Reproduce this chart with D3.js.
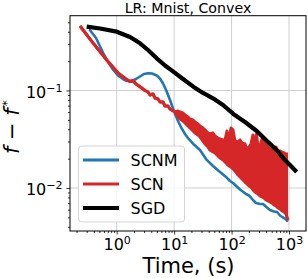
<!DOCTYPE html>
<html><head><meta charset="utf-8">
<script src="https://cdn.jsdelivr.net/npm/d3@7"></script>
<style>body{margin:0;background:#fff}svg{display:block}text{font-family:"DejaVu Sans",sans-serif}</style>
</head><body><svg id="c" width="308" height="278"></svg>
<script>
const title = "LR: Mnist, Convex";
const xLabel = "Time, (s)";
const seriesNames = ["SCNM", "SCN", "SGD"];
const seriesColors = ["#1f77b4", "#d62728", "#000000"];
const xMajorTicks = [1, 10, 100, 1000];
const yMajorTicks = [0.01, 0.1];

// SCNM
const scnmT = [0.333,0.436,0.585,0.706,0.873,1.054,1.303,1.512,1.825,2.168,2.545,2.988,3.549,4.120,4.972,5.675,6.478,7.365,8.474,9.557,10.57,11.68,13.55,15.46,17.66,21.57,28.22,36.91,47.52,62.92,82.30,93.97,106.0,140.3,178.4,201.2,236.2,266.4,312.7,352.7,413.9,467.0,548.3,620.0,697.4,786.1,851.1,960.9];
const scnmF = [0.4244,0.3455,0.2407,0.196,0.1623,0.1425,0.1303,0.1252,0.1246,0.1312,0.1392,0.1476,0.1501,0.1494,0.1425,0.1328,0.1166,0.0988,0.0799,0.0654,0.0561,0.0487,0.0408,0.0358,0.0322,0.0283,0.0245,0.0194,0.0168,0.0146,0.0128,0.0118,0.01125,0.00966,0.00868,0.00838,0.00753,0.00702,0.00686,0.00686,0.00631,0.00595,0.00574,0.00567,0.00522,0.00498,0.00487,0.00453];

// SCN (noisy: per-sample lower and upper extent)
const scnT = [0.230,0.391,0.670,1.066,1.452,1.704,1.922,2.168,2.545,3.111,3.508,3.800,4.287,4.645,5.238,5.675,6.401,6.935,7.822,8.474,10.36,11.68,12.65,14.27,15.46,17.44,18.90,21.31,23.09,26.04,28.22,31.81,34.47,38.89,42.13,47.52,51.49,58.05,62.92,70.96,76.88,83.29,90.26,97.77,106.0,114.8,129.5,140.3,152.0,171.4,185.7,201.2,218.0,236.2,255.9,271.9,288.6,312.7,338.8,367.2,397.9,431.1,467.0,505.9,548.3,594.0,643.7,697.4,755.8,818.9,887.2,960.9];
const scnHi = [0.4586,0.3048,0.2055,0.1501,0.1312,0.1237,0.1267,0.1166,0.1094,0.1,0.0965,0.0899,0.0921,0.0838,0.0818,0.0762,0.0762,0.0693,0.0693,0.0646,0.0602,0.0616,0.0602,0.0588,0.0561,0.0535,0.0510,0.0498,0.0475,0.0453,0.0432,0.0412,0.0394,0.0367,0.0358,0.0367,0.0341,0.0326,0.0318,0.0311,0.0311,0.0384,0.0311,0.0412,0.0394,0.0303,0.0296,0.0311,0.0289,0.0283,0.0245,0.0263,0.0283,0.0350,0.0276,0.0358,0.0263,0.0270,0.0318,0.0257,0.0311,0.0251,0.0276,0.0245,0.0240,0.0263,0.0234,0.0240,0.0234,0.0229,0.0223,0.0223];
const scnLo = [0.4586,0.3048,0.2055,0.1501,0.1312,0.1237,0.1267,0.1166,0.1094,0.1,0.0965,0.0899,0.0921,0.0838,0.0818,0.0762,0.0762,0.0693,0.0693,0.0646,0.0602,0.0535,0.0510,0.0487,0.0464,0.0432,0.0412,0.0384,0.0367,0.0350,0.0333,0.0303,0.0283,0.0263,0.0245,0.0234,0.0229,0.0213,0.0203,0.0194,0.0185,0.0176,0.0168,0.0164,0.0157,0.0149,0.0136,0.0130,0.0124,0.0115,0.0110,0.0105,0.0102,0.00954,0.00910,0.00889,0.00868,0.00828,0.00809,0.00790,0.00753,0.00736,0.00718,0.00702,0.00669,0.00654,0.00624,0.00609,0.00581,0.00567,0.00541,0.00470];

// SGD
const sgdT = [0.300,0.512,1.0,1.704,2.545,3.508,4.972,6.935,9.672,14.27,21.57,31.81,47.52,70.96,107.2,171.4,274.0,413.9,611.0,818.9,1041,1362];
const sgdF = [0.4513,0.4325,0.401,0.3538,0.3048,0.2602,0.2139,0.1805,0.1559,0.1312,0.1094,0.0943,0.0832,0.0710,0.0575,0.0475,0.0384,0.0303,0.0245,0.0198,0.0172,0.0146];

const svg = d3.select("#c");
const L = 70, R = 306, T = 15.7, B = 231;
const x = d3.scaleLog().domain([Math.pow(10,-0.813), Math.pow(10,3.296)]).range([L, R]);
const y = d3.scaleLog().domain([Math.pow(10,-2.441), Math.pow(10,-0.233)]).range([B, T]);

const fmtExp = v => Math.round(Math.log10(v));
function supLabel(sel) {
  sel.each(function(d){
    const t = d3.select(this); t.text(null);
    t.append("tspan").text("10");
    const e = fmtExp(d);
    t.append("tspan").attr("dy", "-0.55em").attr("font-size", "11px").text(e < 0 ? "\u2212" + (-e) : String(e));
  });
}

// grid
const g = svg.append("g");
g.selectAll(".gx").data(xMajorTicks).join("line")
  .attr("x1", d => x(d)).attr("x2", d => x(d)).attr("y1", T).attr("y2", B)
  .attr("stroke", "#cfcfcf").attr("stroke-width", 1);
g.selectAll(".gy").data(yMajorTicks).join("line")
  .attr("y1", d => y(d)).attr("y2", d => y(d)).attr("x1", L).attr("x2", R)
  .attr("stroke", "#cfcfcf").attr("stroke-width", 1);

// minor ticks
const xMinor = x.ticks().filter(v => !xMajorTicks.includes(v));
const yMinor = y.ticks().filter(v => !yMajorTicks.some(m => Math.abs(m - v) < 1e-12));
svg.append("g").attr("transform", `translate(0,${B})`)
  .call(d3.axisBottom(x).tickValues(xMinor).tickSize(2).tickFormat(""))
  .call(a => a.select(".domain").remove());
svg.append("g").attr("transform", `translate(${L},0)`)
  .call(d3.axisLeft(y).tickValues(yMinor).tickSize(2).tickFormat(""))
  .call(a => a.select(".domain").remove());

// major axes
const xa = svg.append("g").attr("transform", `translate(0,${B})`)
  .call(d3.axisBottom(x).tickValues(xMajorTicks).tickSize(3.5).tickPadding(4));
xa.select(".domain").remove();
xa.selectAll("text").attr("font-size", "16px").attr("fill", "#000").attr("dy", "0.74em").call(supLabel);
const ya = svg.append("g").attr("transform", `translate(${L},0)`)
  .call(d3.axisLeft(y).tickValues(yMajorTicks).tickSize(3.5).tickPadding(4));
ya.select(".domain").remove();
ya.selectAll("text").attr("font-size", "16px").attr("fill", "#000").attr("dy", "0.42em").call(supLabel);
svg.selectAll(".tick line").attr("stroke", "#000").attr("stroke-width", 0.8);

// series
svg.append("clipPath").attr("id", "clp").append("rect")
  .attr("x", L).attr("y", T).attr("width", R - L).attr("height", B - T);
const plot = svg.append("g").attr("clip-path", "url(#clp)");

const line = d3.line().x(d => x(d[0])).y(d => y(d[1]));
plot.append("path").datum(d3.zip(scnmT, scnmF)).attr("d", line)
  .attr("fill", "none").attr("stroke", seriesColors[0]).attr("stroke-width", 2.6).attr("stroke-linejoin", "round");

const scnRows = scnT.map((t, i) => ({t, lo: scnLo[i], hi: scnHi[i]}));
plot.append("path").datum(scnRows)
  .attr("d", d3.area().x(d => x(d.t)).y0(d => y(d.lo)).y1(d => y(d.hi)))
  .attr("fill", seriesColors[1]);
plot.append("path").datum(scnRows).attr("d", d3.line().x(d => x(d.t)).y(d => y(d.hi)))
  .attr("fill", "none").attr("stroke", seriesColors[1]).attr("stroke-width", 3).attr("stroke-linejoin", "round");
plot.append("path").datum(scnRows).attr("d", d3.line().x(d => x(d.t)).y(d => y(d.lo)))
  .attr("fill", "none").attr("stroke", seriesColors[1]).attr("stroke-width", 3).attr("stroke-linejoin", "round");

plot.append("path").datum(d3.zip(sgdT, sgdF)).attr("d", line)
  .attr("fill", "none").attr("stroke", seriesColors[2]).attr("stroke-width", 4.2).attr("stroke-linejoin", "round");

// frame
svg.append("rect").attr("x", L).attr("y", T).attr("width", R - L).attr("height", B - T)
  .attr("fill", "none").attr("stroke", "#000").attr("stroke-width", 1);

// legend
const lg = svg.append("g");
lg.append("rect").attr("x", 78.5).attr("y", 146).attr("width", 106).attr("height", 76).attr("rx", 3)
  .attr("fill", "#fff").attr("fill-opacity", 0.8).attr("stroke", "#d5d5d5").attr("stroke-width", 1);
const lw = [3.2, 3.2, 4.2];
seriesNames.forEach((n, i) => {
  const yy = 160 + i * 24;
  lg.append("line").attr("x1", 83).attr("x2", 119).attr("y1", yy).attr("y2", yy)
    .attr("stroke", seriesColors[i]).attr("stroke-width", lw[i]);
  lg.append("text").attr("x", 130.5).attr("y", yy + 6).attr("font-size", "16px").text(n);
});

// title & labels
svg.append("text").attr("x", (L + R) / 2).attr("y", 12.5).attr("text-anchor", "middle")
  .attr("font-size", "14.2px").text(title);
svg.append("text").attr("x", (L + R) / 2 + 0.5).attr("y", 273).attr("text-anchor", "middle")
  .attr("font-size", "21px").text(xLabel);
const yl = svg.append("text").attr("transform", "translate(19,127) rotate(-90)")
  .attr("text-anchor", "middle").attr("font-size", "21px");
yl.append("tspan").attr("font-style", "italic").text("f");
yl.append("tspan").text(" \u2212 ");
yl.append("tspan").attr("font-style", "italic").text("f");
yl.append("tspan").attr("dx", "0.15em").attr("dy", "-0.6em").attr("font-size", "13px").text("*");
</script></body></html>
